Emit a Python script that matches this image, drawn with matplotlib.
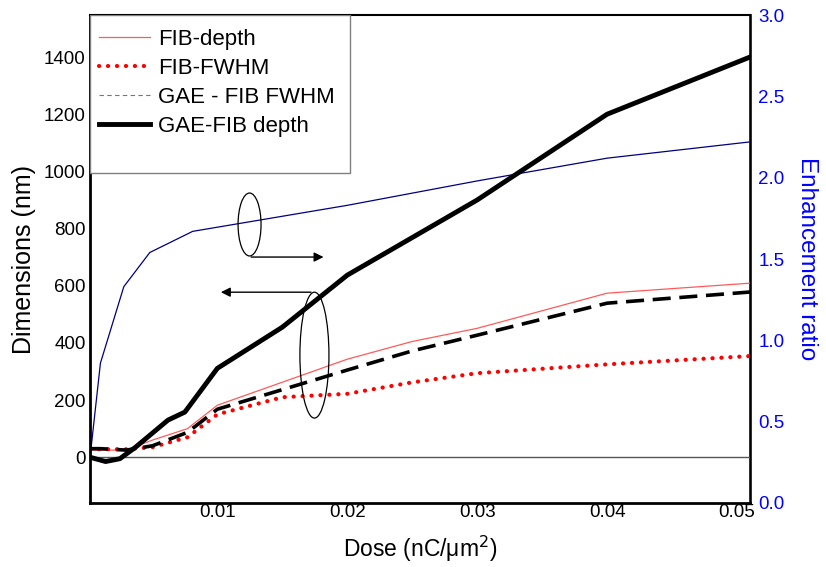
import matplotlib
matplotlib.use('Agg')
import matplotlib.pyplot as plt
from matplotlib.lines import Line2D
from matplotlib.patches import Ellipse, Rectangle

plt.rcParams['font.family'] = ['Liberation Sans', 'DejaVu Sans']

# GAE-FIB depth (thick black)
gae_depth_x = [0.0002, 0.0014, 0.0025, 0.0037, 0.0062, 0.0075, 0.01, 0.015, 0.02, 0.03, 0.04, 0.051]
gae_depth_y = [0, -15, -5, 35, 130, 158, 311, 455, 637, 900, 1200, 1400]

# FIB-depth (thin red)
fib_depth_x = [0.0002, 0.003, 0.005, 0.0077, 0.01, 0.02, 0.025, 0.03, 0.04, 0.051]
fib_depth_y = [25, 25, 60, 100, 182, 343, 405, 451, 574, 609]

# FIB-FWHM (red dotted)
fib_fwhm_x = [0.0002, 0.003, 0.005, 0.0077, 0.01, 0.015, 0.02, 0.025, 0.03, 0.04, 0.051]
fib_fwhm_y = [28, 28, 35, 70, 150, 210, 222, 262, 294, 325, 354]

# GAE - FIB FWHM (black dashed)
gae_fwhm_x = [0.0002, 0.001, 0.003, 0.005, 0.0077, 0.01, 0.02, 0.025, 0.03, 0.04, 0.051]
gae_fwhm_y = [30, 30, 25, 40, 87, 168, 305, 372, 427, 539, 578]

# enhancement ratio (right axis)
ratio_x = [0.0002, 0.001, 0.0028, 0.0048, 0.0081, 0.02, 0.03, 0.04, 0.051]
ratio_y = [0.28, 0.86, 1.33, 1.54, 1.67, 1.83, 1.98, 2.12, 2.22]

xticks = [0.01, 0.02, 0.03, 0.04, 0.05]
yticks_left = [0, 200, 400, 600, 800, 1000, 1200, 1400]
yticks_right = [0.0, 0.5, 1.0, 1.5, 2.0, 2.5, 3.0]

DOT = (0, (0.05, 2.1))
DASH = (0, (5, 2.4))

fig = plt.figure(figsize=(8.26, 5.67), dpi=100)
ax = fig.add_axes([0.109, 0.1129, 0.799, 0.8606])
ax2 = ax.twinx()

ax.axhline(0, color='#555555', lw=1.0, zorder=1)
ax.plot(fib_depth_x, fib_depth_y, color='#ff5a5a', lw=0.9)
ax.plot(fib_fwhm_x, fib_fwhm_y, color='red', lw=3.0, linestyle=DOT,
        dash_capstyle='round')
ax.plot(gae_fwhm_x, gae_fwhm_y, color='black', lw=2.6, linestyle=DASH)
ax.plot(gae_depth_x, gae_depth_y, color='black', lw=3.5)
ax2.plot(ratio_x, ratio_y, color='#000080', lw=0.9)

ax.set_xlim(0.0002, 0.051)
ax.set_ylim(-160, 1547)
ax2.set_ylim(0, 3.0)

ax.set_xticks(xticks)
ax.set_xticklabels(['0.01', '0.02', '0.03', '0.04', '0.05'])
ax.set_yticks(yticks_left)
ax2.set_yticks(yticks_right)
ax2.set_yticklabels([f'{v:.1f}' for v in yticks_right])
ax.tick_params(length=0, labelsize=13.5, pad=3)
ax.tick_params(axis='x', pad=1)
ax2.tick_params(length=0, labelsize=13.5, pad=6, labelcolor='blue')

for s in ['left', 'bottom']:
    ax.spines[s].set_linewidth(2.0)
ax.spines['top'].set_linewidth(1.5)
ax2.spines['right'].set_color('blue')
ax2.spines['right'].set_linewidth(2.0)
ax2.spines['left'].set_visible(False)
ax2.spines['top'].set_visible(False)
ax2.spines['bottom'].set_visible(False)

ax.set_xlabel('Dose (nC/μm$^{2}$)', fontsize=16.5, labelpad=9)
ax.set_ylabel('Dimensions (nm)', fontsize=18, labelpad=6)
ax2.set_ylabel('Enhancement ratio', fontsize=17.5, color='blue', rotation=270, labelpad=24)

# annotations: ellipses with arrows
tr = ax.transAxes
ax.add_patch(Ellipse((0.2417, 0.5707), 0.0348, 0.129, transform=tr, fill=False,
                     edgecolor='black', lw=0.9, zorder=5))
ax.add_patch(Ellipse((0.340, 0.303), 0.044, 0.258, transform=tr, fill=False,
                     edgecolor='black', lw=0.9, zorder=5))
ax.annotate('', xy=(0.358, 0.504), xytext=(0.240, 0.504), xycoords=tr, textcoords=tr,
            arrowprops=dict(arrowstyle='-|>', color='black', lw=1.0, mutation_scale=14))
ax.annotate('', xy=(0.194, 0.432), xytext=(0.339, 0.432), xycoords=tr, textcoords=tr,
            arrowprops=dict(arrowstyle='-|>', color='black', lw=1.0, mutation_scale=14))

# legend box
ax.add_patch(Rectangle((0.0, 0.676), 0.394, 0.324, transform=tr, facecolor='white',
                       edgecolor='#808080', lw=1.0, zorder=9))
handles = [
    Line2D([], [], color='#ff5a5a', lw=0.9),
    Line2D([], [], color='red', lw=3.0, linestyle=DOT, dash_capstyle='round'),
    Line2D([], [], color='#777777', lw=0.8, linestyle=(0, (4, 3))),
    Line2D([], [], color='black', lw=3.5),
]
labels = ['FIB-depth', 'FIB-FWHM', 'GAE - FIB FWHM', 'GAE-FIB depth']
leg = ax.legend(handles, labels, loc='upper left', bbox_to_anchor=(0.004, 0.985),
                fontsize=16, frameon=False, borderaxespad=0,
                handlelength=2.3, handletextpad=0.35, labelspacing=0.36,
                borderpad=0.3)
leg.set_zorder(10)
ax.set_zorder(ax2.get_zorder() + 1)
ax.patch.set_visible(False)

fig.savefig('out.png', dpi=100)
